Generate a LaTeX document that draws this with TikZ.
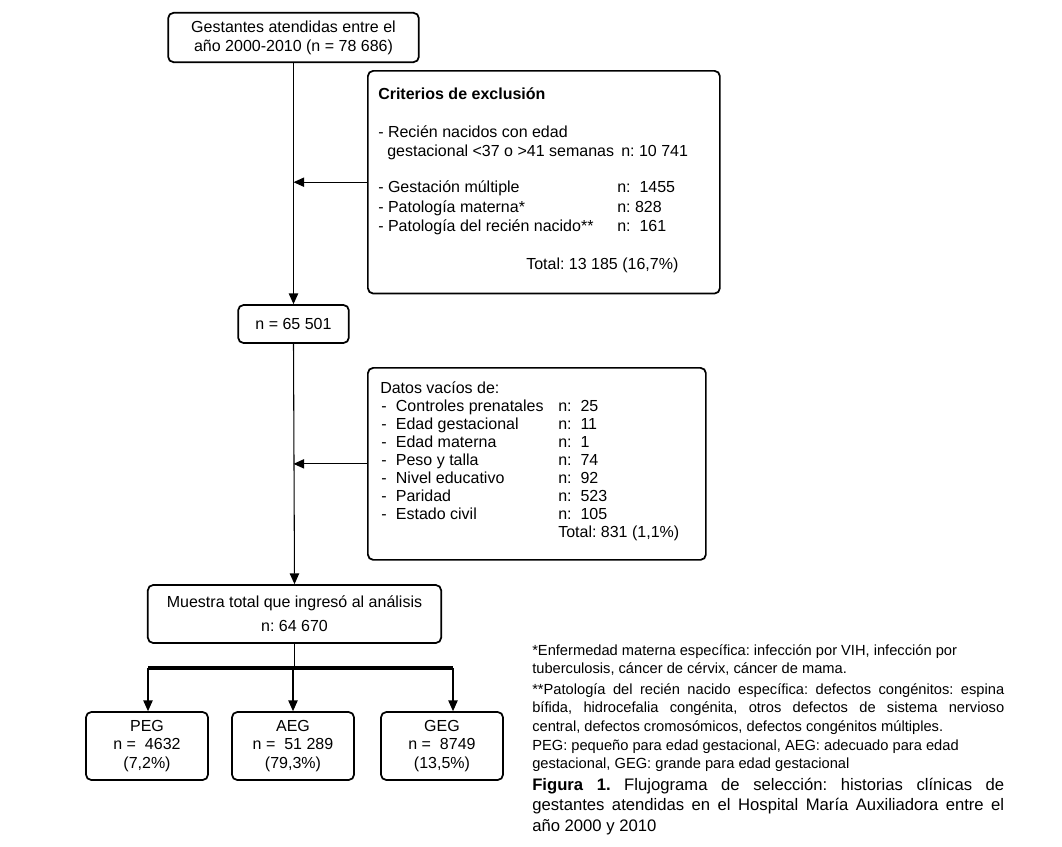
\documentclass[tikz,border=0pt]{standalone}
\usepackage{fontspec}
\setmainfont{Liberation Sans}
\frenchspacing
\usetikzlibrary{arrows.meta}
\tikzset{
  caja/.style={draw, line width=1.3pt, rounded corners=4pt, align=center, inner sep=0pt},
  flecha/.style={-{Triangle[length=8pt,width=7pt]}, line width=0.8pt},
  texto/.style={anchor=base west, inner sep=0pt},
  nota/.style={anchor=base west, inner sep=0pt, font=\fontsize{11}{13}\selectfont},
  leyenda/.style={anchor=base west, inner sep=0pt, font=\fontsize{12.5}{15}\selectfont},
}

\begin{document}
\begin{tikzpicture}[x=0.75pt, y=-0.75pt, font=\fontsize{12}{14.2}\selectfont]
  \useasboundingbox (0,0) rectangle (1062,846);
  % main column
  \node[caja, minimum width=188pt, minimum height=37pt] (inicio) at (293.5,37.5)
    {Gestantes atendidas entre el\\año 2000-2010 (n = 78 686)};
  \node[caja, minimum width=83pt, minimum height=28.5pt] (n1) at (293.5,324) {n = 65 501};
  \node[caja, minimum width=220pt, minimum height=43.5pt] (muestra) at (294.5,614)
    {Muestra total que ingresó al análisis\\[4pt]n: 64 670};
  \draw[flecha] (inicio.south) -- (n1.north);
  \draw[flecha] (n1.south) -- (muestra.north);

  % exclusion criteria
  \node[caja, anchor=north west, minimum width=264pt, minimum height=167pt] (excl) at (367,70) {};
  \node[texto] (crit) at (378,99) {\textbf{Criterios de exclusión}};
  \node[texto] (rn1) at (378,137) {- Recién nacidos con edad};
  \node[texto] (rn2) at (387,156) {gestacional <37 o >41 semanas};
  \node[texto] (rnn) at (621,156) {n: 10 741};
  \node[texto] (gm) at (378,192) {- Gestación múltiple};
  \node[texto] (gmn) at (617,192) {n:~~1455};
  \node[texto] (pm) at (378,212) {- Patología materna*};
  \node[texto] (pmn) at (617,212) {n: 828};
  \node[texto] (pr) at (378,231) {- Patología del recién nacido**};
  \node[texto] (prn) at (617,231) {n:~~161};
  \node[texto] (tot1) at (526,269) {Total: 13 185 (16,7\%)};
  \draw[flecha] (excl.west) -- (excl.west -| inicio.south);

  % missing data
  \node[caja, anchor=north west, minimum width=253.5pt, minimum height=144pt] (datos) at (367,367) {};
  \node[texto] (dv0) at (380,393) {Datos vacíos de:};
  \foreach \dato/\cant [count=\i] in {Controles prenatales/25, Edad gestacional/11,
      Edad materna/1, Peso y talla/74, Nivel educativo/92, Paridad/523, Estado civil/105}{
    \node[texto] (dv\i) at (381,{393+18*\i}) {\makebox[11pt][l]{-}\dato};
    \node[texto] (dn\i) at (558,{393+18*\i}) {n:~~\cant};
  }
  \node[texto] (tot2) at (558,537) {Total: 831 (1,1\%)};
  \draw[flecha] (datos.west) -- (datos.west -| n1.south);

  % groups
  \node[caja, minimum width=91.5pt, minimum height=51pt] (peg) at (147,746) {PEG\\n = \ 4632\\(7,2\%)};
  \node[caja, minimum width=91.5pt, minimum height=51pt] (aeg) at (293,746) {AEG\\n = \ 51 289\\(79,3\%)};
  \node[caja, minimum width=91.5pt, minimum height=51pt] (geg) at (442,746) {GEG\\n = \ 8749\\(13,5\%)};
  \coordinate (barL) at (148,668);
  \coordinate (barR) at (453,668);
  \draw[line width=2.6pt] (barL) -- (barR);
  \draw[line width=0.8pt] (muestra.south) -- (muestra.south |- barL);
  \draw[flecha] (barL) -- (barL |- peg.north);
  \draw[flecha] (aeg.north |- barL) -- (aeg.north);
  \draw[flecha] (barR) -- (barR |- geg.north);

  % notes and caption
  \node[nota] (nota1) at (532,655) {*Enfermedad materna específica: infección por VIH, infección por};
  \node[nota] (nota2) at (532,673) {tuberculosis, cáncer de cérvix, cáncer de mama.};
  \node[nota] (nota3) at (532,694) {\makebox[354pt][s]{**Patología del recién nacido específica: defectos congénitos: espina}};
  \node[nota] (nota4) at (532,712) {\makebox[354pt][s]{bífida, hidrocefalia congénita, otros defectos de sistema nervioso}};
  \node[nota] (nota5) at (532,731) {central, defectos cromosómicos, defectos congénitos múltiples.};
  \node[nota] (nota6) at (532,750) {PEG: pequeño para edad gestacional, AEG: adecuado para edad};
  \node[nota] (nota7) at (532,768) {gestacional, GEG: grande para edad gestacional};
  \node[leyenda] (fig1) at (532,790) {\makebox[354pt][s]{\textbf{Figura 1.} Flujograma de selección: historias clínicas de}};
  \node[leyenda] (fig2) at (532,810) {\makebox[354pt][s]{gestantes atendidas en el Hospital María Auxiliadora entre el}};
  \node[leyenda] (fig3) at (532,831) {año 2000 y 2010};
\end{tikzpicture}
\end{document}
